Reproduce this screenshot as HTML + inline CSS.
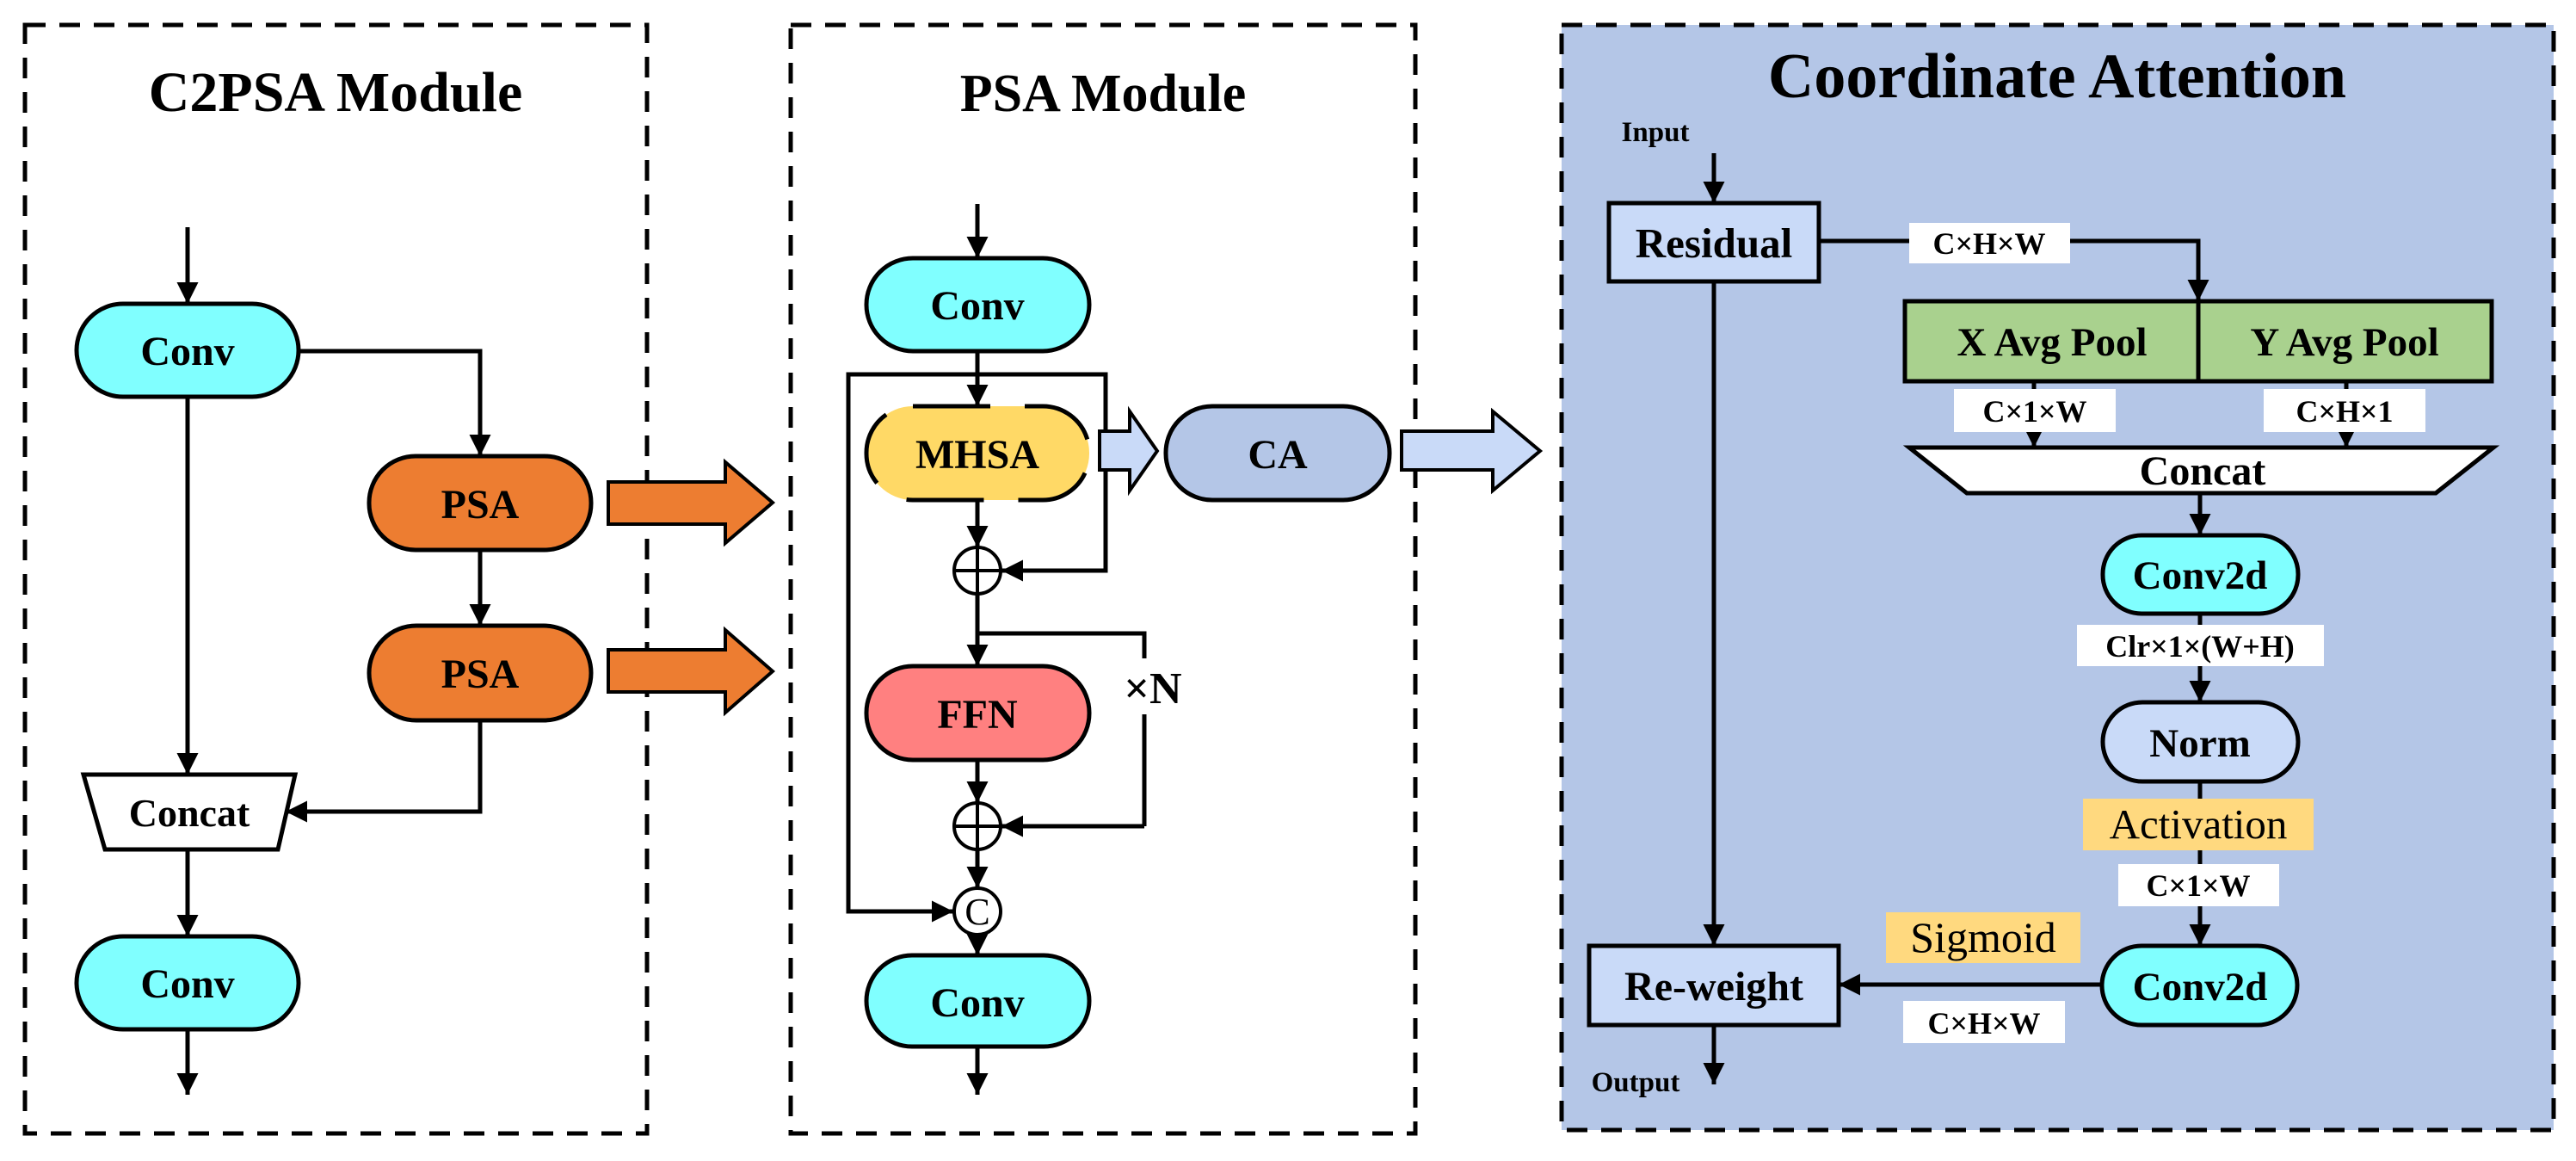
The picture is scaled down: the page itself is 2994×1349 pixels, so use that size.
<!DOCTYPE html>
<html><head><meta charset="utf-8"><style>
html,body{margin:0;padding:0;background:#fff}
svg{display:block}
text{font-family:"Liberation Serif",serif;font-weight:bold;fill:#000}
</style></head><body>
<svg width="2994" height="1349" viewBox="0 0 2994 1349" xmlns="http://www.w3.org/2000/svg">
<defs>
<marker id="ah" viewBox="0 0 10 10" refX="10" refY="5" markerWidth="5" markerHeight="5" markerUnits="strokeWidth" orient="auto">
<path d="M0,0 L10,5 L0,10 z" fill="#000"/></marker>
</defs>
<g stroke="#000" stroke-width="5" fill="none">
<rect x="29" y="29" width="723" height="1288" stroke-dasharray="24,16"/>
<rect x="919" y="29" width="726" height="1288" stroke-dasharray="24,16"/>
<rect x="1815" y="29" width="1153" height="1284" fill="#B4C6E7" stroke-dasharray="24,16"/>

<line x1="218" y1="264" x2="218" y2="353" marker-end="url(#ah)"/>
<polyline points="347,408 558,408 558,530" marker-end="url(#ah)"/>
<line x1="218" y1="461" x2="218" y2="900" marker-end="url(#ah)"/>
<line x1="558" y1="639" x2="558" y2="727" marker-end="url(#ah)"/>
<polyline points="558,837 558,943 332,943" marker-end="url(#ah)"/>
<line x1="218" y1="987" x2="218" y2="1088" marker-end="url(#ah)"/>
<line x1="218" y1="1196" x2="218" y2="1272" marker-end="url(#ah)"/>
</g>
<g stroke="#000" stroke-width="5">
<rect x="89" y="353" width="258" height="108" rx="54" fill="#80FFFF"/>
<rect x="429" y="530" width="258" height="109" rx="54" fill="#ED7D31"/>
<rect x="429" y="727" width="258" height="110" rx="55" fill="#ED7D31"/>
<polygon points="97,900 343,900 323,987 122,987" fill="#fff"/>
<rect x="89" y="1088" width="258" height="108" rx="54" fill="#80FFFF"/>
<polygon points="707,560 843,560 843,537 898,584 843,631 843,609 707,609" fill="#ED7D31" stroke-width="4"/>
<polygon points="707,755 843,755 843,732 898,780 843,828 843,804 707,804" fill="#ED7D31" stroke-width="4"/>
</g>
<text x="390" y="129" font-size="66" text-anchor="middle">C2PSA Module</text>
<text x="218" y="424" font-size="48" text-anchor="middle">Conv</text>
<text x="558" y="602" font-size="48" text-anchor="middle">PSA</text>
<text x="558" y="799" font-size="48" text-anchor="middle">PSA</text>
<text x="220" y="960" font-size="46" text-anchor="middle">Concat</text>
<text x="218" y="1159" font-size="48" text-anchor="middle">Conv</text>

<g stroke="#000" stroke-width="5" fill="none">
<line x1="1136" y1="237" x2="1136" y2="300" marker-end="url(#ah)"/>
<line x1="1136" y1="408" x2="1136" y2="472" marker-end="url(#ah)"/>
<polyline points="1136,435 986,435 986,1059 1108,1059" marker-end="url(#ah)"/>
<polyline points="1136,435 1285,435 1285,663 1164,663" marker-end="url(#ah)"/>
<line x1="1136" y1="581" x2="1136" y2="636" marker-end="url(#ah)"/>
<line x1="1136" y1="690" x2="1136" y2="774" marker-end="url(#ah)"/>
<polyline points="1136,736 1330,736 1330,960"/>
<polyline points="1330,960 1164,960" marker-end="url(#ah)"/>
<line x1="1136" y1="883" x2="1136" y2="933" marker-end="url(#ah)"/>
<line x1="1136" y1="987" x2="1136" y2="1032" marker-end="url(#ah)"/>
<line x1="1136" y1="1086" x2="1136" y2="1110" marker-end="url(#ah)"/>
<line x1="1136" y1="1216" x2="1136" y2="1272" marker-end="url(#ah)"/>
</g>
<rect x="1295" y="765" width="90" height="65" fill="#fff"/>
<g stroke="#000" stroke-width="5">
<rect x="1007" y="300" width="259" height="108" rx="54" fill="#80FFFF"/>
<rect x="1007" y="472" width="259" height="109" rx="54" fill="#FFD966" stroke-dasharray="90,40"/>
<rect x="1355" y="472" width="260" height="109" rx="54" fill="#B4C6E7"/>
<rect x="1007" y="774" width="259" height="109" rx="54" fill="#FF8080"/>
<rect x="1007" y="1110" width="259" height="106" rx="53" fill="#80FFFF"/>
<polygon points="1278,501 1313,501 1313,478 1345,524 1313,570 1313,546 1278,546" fill="#C9DAF8" stroke-width="4"/>
<polygon points="1629,501 1735,501 1735,478 1790,524 1735,570 1735,546 1629,546" fill="#C9DAF8" stroke-width="4"/>
<ellipse cx="1136" cy="663" rx="27" ry="27" fill="#fff" stroke-width="4"/>
<ellipse cx="1136" cy="960" rx="27" ry="27" fill="#fff" stroke-width="4"/>
<ellipse cx="1136" cy="1059" rx="27" ry="27" fill="#fff" stroke-width="4"/>
<line x1="1109" y1="663" x2="1163" y2="663" stroke-width="4"/>
<line x1="1136" y1="636" x2="1136" y2="690" stroke-width="4"/>
<line x1="1109" y1="960" x2="1163" y2="960" stroke-width="4"/>
<line x1="1136" y1="933" x2="1136" y2="987" stroke-width="4"/>
</g>
<text x="1136" y="1074" font-size="44" style="font-weight:normal" text-anchor="middle">C</text>
<text x="1282" y="129" font-size="62" text-anchor="middle">PSA Module</text>
<text x="1136" y="371" font-size="48" text-anchor="middle">Conv</text>
<text x="1136" y="544" font-size="48" text-anchor="middle">MHSA</text>
<text x="1485" y="544" font-size="48" text-anchor="middle">CA</text>
<text x="1136" y="846" font-size="48" text-anchor="middle">FFN</text>
<text x="1340" y="817" font-size="52" text-anchor="middle">×N</text>
<text x="1136" y="1181" font-size="48" text-anchor="middle">Conv</text>

<g stroke="#000" stroke-width="5" fill="none">
<line x1="1992" y1="178" x2="1992" y2="236" marker-end="url(#ah)"/>
<polyline points="2114,280 2555,280 2555,350" marker-end="url(#ah)"/>
<line x1="1992" y1="327" x2="1992" y2="1099" marker-end="url(#ah)"/>
<line x1="2364" y1="443" x2="2364" y2="520" marker-end="url(#ah)"/>
<line x1="2727" y1="443" x2="2727" y2="520" marker-end="url(#ah)"/>
<line x1="2557" y1="573" x2="2557" y2="622" marker-end="url(#ah)"/>
<line x1="2557" y1="713" x2="2557" y2="816" marker-end="url(#ah)"/>
<line x1="2557" y1="908" x2="2557" y2="1099" marker-end="url(#ah)"/>
<line x1="2443" y1="1144" x2="2137" y2="1144" marker-end="url(#ah)"/>
<line x1="1992" y1="1191" x2="1992" y2="1260" marker-end="url(#ah)"/>
</g>
<g stroke="#000" stroke-width="5">
<rect x="1870" y="236" width="244" height="91" fill="#C9DAF8"/>
<rect x="2214" y="350" width="682" height="93" fill="#A9D18E"/>
<line x1="2555" y1="350" x2="2555" y2="443"/>
<polygon points="2219,520 2898,520 2831,573 2286,573" fill="#fff"/>
<rect x="2444" y="622" width="227" height="91" rx="45" fill="#80FFFF"/>
<rect x="2444" y="816" width="227" height="92" rx="46" fill="#C9DAF8"/>
<rect x="2443" y="1099" width="227" height="92" rx="46" fill="#80FFFF"/>
<rect x="1847" y="1099" width="290" height="92" fill="#C9DAF8"/>
</g>
<g fill="#fff">
<rect x="2219" y="259" width="187" height="47"/>
<rect x="2271" y="452" width="188" height="50"/>
<rect x="2631" y="452" width="188" height="50"/>
<rect x="2414" y="726" width="287" height="48"/>
<rect x="2462" y="1004" width="187" height="49"/>
<rect x="2212" y="1163" width="188" height="49"/>
</g>
<rect x="2421" y="928" width="268" height="60" fill="#FFD97F"/>
<rect x="2192" y="1060" width="226" height="59" fill="#FFD97F"/>
<text x="2391" y="113" font-size="74" text-anchor="middle">Coordinate Attention</text>
<text x="1924" y="164" font-size="33" text-anchor="middle">Input</text>
<text x="1901" y="1268" font-size="33" text-anchor="middle">Output</text>
<text x="1992" y="299" font-size="49" text-anchor="middle">Residual</text>
<text x="2385" y="413" font-size="47" text-anchor="middle">X Avg Pool</text>
<text x="2725" y="413" font-size="47" text-anchor="middle">Y Avg Pool</text>
<text x="2312" y="295" font-size="36" text-anchor="middle">C×H×W</text>
<text x="2365" y="490" font-size="36" text-anchor="middle">C×1×W</text>
<text x="2725" y="490" font-size="36" text-anchor="middle">C×H×1</text>
<text x="2560" y="563" font-size="48" text-anchor="middle">Concat</text>
<text x="2557" y="684" font-size="47" text-anchor="middle">Conv2d</text>
<text x="2557" y="763" font-size="36" text-anchor="middle">Clr×1×(W+H)</text>
<text x="2557" y="879" font-size="47" text-anchor="middle">Norm</text>
<text x="2555" y="974" font-size="49" style="font-weight:normal" text-anchor="middle">Activation</text>
<text x="2555" y="1041" font-size="36" text-anchor="middle">C×1×W</text>
<text x="2305" y="1106" font-size="50" style="font-weight:normal" text-anchor="middle">Sigmoid</text>
<text x="2557" y="1162" font-size="47" text-anchor="middle">Conv2d</text>
<text x="2306" y="1201" font-size="36" text-anchor="middle">C×H×W</text>
<text x="1992" y="1162" font-size="48" text-anchor="middle">Re-weight</text>
</svg>
</body></html>
